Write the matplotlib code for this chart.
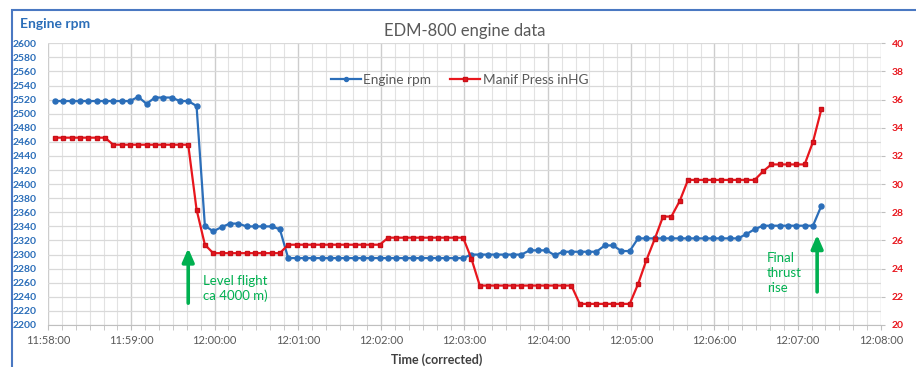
import matplotlib.pyplot as plt
from matplotlib.ticker import MultipleLocator, FuncFormatter
from matplotlib.patches import Rectangle
import numpy as np

plt.rcParams['font.family'] = ['Lato', 'DejaVu Sans']

# EDM-800 log, one sample every 6 seconds
log_start = "11:58:05"
sample_interval_s = 6

engine_rpm = [
    2518, 2518, 2518, 2518, 2518, 2518, 2518, 2518, 2518, 2518,
    2524, 2514, 2523, 2523, 2523, 2518, 2518, 2511,
    2341, 2333, 2339, 2344, 2344, 2340, 2340, 2340, 2340, 2336,
    2295, 2295, 2295, 2295, 2295, 2295, 2295, 2295, 2295, 2295, 2295,
    2295, 2295, 2295, 2295, 2295, 2295, 2295, 2295, 2295, 2295, 2295,
    2300, 2300, 2300, 2300, 2300, 2300, 2300,
    2306, 2306, 2306, 2299, 2304, 2304, 2304, 2304, 2304,
    2313, 2313, 2305, 2305,
    2323, 2323, 2323, 2323, 2323, 2323, 2323, 2323, 2323, 2323, 2323, 2323, 2323,
    2329, 2336, 2341, 2341, 2341, 2341, 2341, 2341, 2341, 2369,
]

manif_press = [
    33.3, 33.3, 33.3, 33.3, 33.3, 33.3, 33.3,
    32.8, 32.8, 32.8, 32.8, 32.8, 32.8, 32.8, 32.8, 32.8, 32.8,
    28.2, 25.7,
    25.1, 25.1, 25.1, 25.1, 25.1, 25.1, 25.1, 25.1, 25.1,
    25.7, 25.7, 25.7, 25.7, 25.7, 25.7, 25.7, 25.7, 25.7, 25.7, 25.7, 25.7,
    26.2, 26.2, 26.2, 26.2, 26.2, 26.2, 26.2, 26.2, 26.2, 26.2,
    24.7,
    22.8, 22.8, 22.8, 22.8, 22.8, 22.8, 22.8, 22.8, 22.8, 22.8, 22.8, 22.8,
    21.5, 21.5, 21.5, 21.5, 21.5, 21.5, 21.5,
    22.9, 24.6, 26.1, 27.7, 27.7, 28.8,
    30.3, 30.3, 30.3, 30.3, 30.3, 30.3, 30.3, 30.3, 30.3,
    30.9, 31.4, 31.4, 31.4, 31.4, 31.4, 33.0, 35.3,
]


def clock_to_s(s):
    h, m, sec = (int(v) for v in s.split(':'))
    return h * 3600 + m * 60 + sec


t = clock_to_s(log_start) + sample_interval_s * np.arange(len(engine_rpm))
t_min, t_max = clock_to_s("11:58:00"), clock_to_s("12:08:00")

BLUE = '#2B6EB9'
RED = '#E8161D'
GREEN = '#00B050'
GREY = '#595959'

fig = plt.figure(figsize=(9.16, 3.67), dpi=100)
ax = fig.add_axes([48 / 916, 1 - 325 / 367, 833 / 916, 281.7 / 367])
ax2 = ax.twinx()

l1, = ax.plot(t, engine_rpm, color=BLUE, lw=1.6, marker='o', ms=3.6,
              label='Engine rpm', zorder=3)
l2, = ax2.plot(t, manif_press, color=RED, lw=1.6, marker='s', ms=3.2,
               mec='#C81018', label='Manif Press inHG', zorder=3)

ax.set_xlim(t_min, t_max)
ax.set_ylim(2200, 2600)
ax2.set_ylim(20, 40)

ax.xaxis.set_major_locator(MultipleLocator(60))
ax.xaxis.set_minor_locator(MultipleLocator(10))
ax.xaxis.set_major_formatter(FuncFormatter(
    lambda v, p: '{:d}:{:02d}:{:02d}'.format(int(v) // 3600, int(v) % 3600 // 60, int(v) % 60)))
ax.yaxis.set_major_locator(MultipleLocator(20))
ax2.yaxis.set_major_locator(MultipleLocator(2))

# gridlines like a spreadsheet chart
ax.grid(True, which='major', axis='y', color='#D9D9D9', lw=0.9)
ax.grid(True, which='major', axis='x', color='#CDCDCD', lw=1.0)
ax.grid(True, which='minor', axis='x', color='#E2E2E2', lw=0.8)
ax.set_axisbelow(True)

for a in (ax, ax2):
    for side in ('top', 'left', 'right'):
        a.spines[side].set_visible(False)
ax.spines['bottom'].set_color('#BFBFBF')
ax2.spines['bottom'].set_visible(False)

ax.tick_params(axis='x', which='both', length=3.5, color='#BFBFBF',
               labelsize=8, labelcolor=GREY, pad=4)
ax.tick_params(axis='y', length=0, pad=8, labelsize=7.5, labelcolor=BLUE)
ax2.tick_params(axis='y', length=3, color='#BFBFBF', pad=5,
                labelsize=7.5, labelcolor=RED)
for lab in ax.get_yticklabels() + ax2.get_yticklabels():
    lab.set_fontweight('bold')

ax.set_title('EDM-800 engine data', fontsize=12, color=GREY, pad=5)
fig.text(20 / 916, 1 - 24 / 367, 'Engine rpm', color=BLUE, fontsize=10,
         fontweight='bold', va='center', ha='left')
fig.text(437 / 916, 1 - 360 / 367, 'Time (corrected)', color='#404040',
         fontsize=9, fontweight='bold', va='center', ha='center')

ax2.legend([l1, l2], ['Engine rpm', 'Manif Press inHG'], loc='center',
           bbox_to_anchor=(0.494, 0.87), ncol=2, frameon=False, fontsize=9.8,
           labelcolor=GREY, handlelength=2.2, handletextpad=0.2,
           columnspacing=1.4, markerscale=0.8)

# annotations
arrow = dict(arrowstyle='-|>,head_width=0.35,head_length=0.8', color=GREEN,
             lw=2.6, shrinkA=0, shrinkB=0)
ax.annotate('', xy=(clock_to_s("11:59:41"), 2309), xytext=(clock_to_s("11:59:41"), 2231),
            arrowprops=arrow)
ax.text(clock_to_s("11:59:52"), 2252, 'Level flight\nca 4000 m)', color=GREEN,
        fontsize=9.5, va='center', ha='left', linespacing=1.3)
ax.annotate('', xy=(clock_to_s("12:07:14"), 2328), xytext=(clock_to_s("12:07:14"), 2247),
            arrowprops=arrow)
ax.text(clock_to_s("12:06:38"), 2274, 'Final\nthrust\nrise', color=GREEN,
        fontsize=9.5, va='center', ha='left', linespacing=1.3)

# chart area border
fig.patches.append(Rectangle((12 / 916, -0.1), 1.2, 1.1 - 10 / 367,
                             transform=fig.transFigure, fill=False,
                             ec='#4A78C2', lw=1.5))

fig.savefig('out.png', dpi=100)
